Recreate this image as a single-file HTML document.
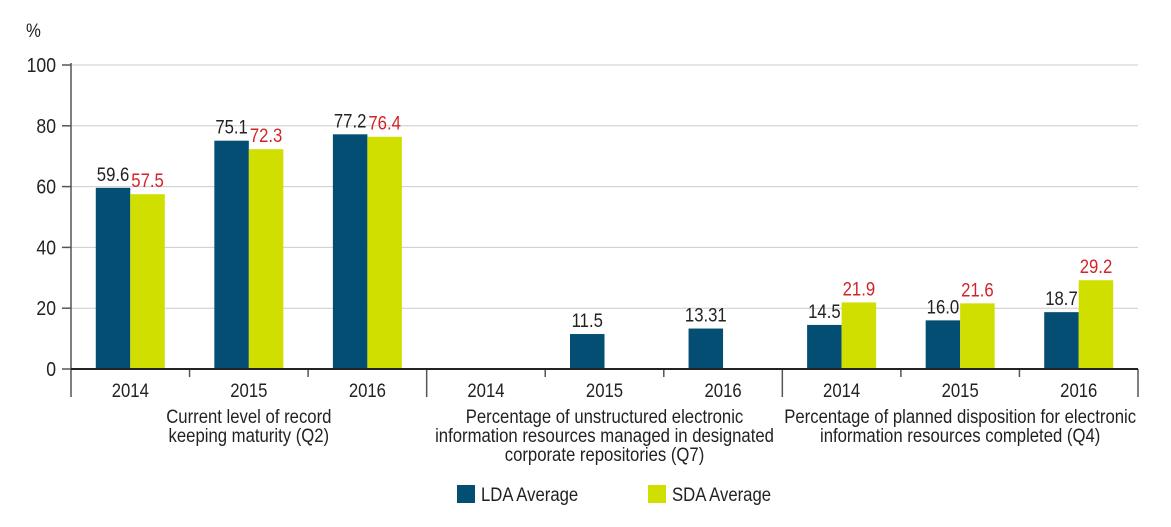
<!DOCTYPE html>
<html><head><meta charset="utf-8"><style>
body{margin:0;background:#fff;}
svg{display:block;font-family:"Liberation Sans Narrow","Liberation Sans",sans-serif;}
</style></head><body>
<svg id="chart" width="1171" height="527" viewBox="0 0 1171 527" xmlns="http://www.w3.org/2000/svg"></svg>
<script>
const categories=["2014","2015","2016","2014","2015","2016","2014","2015","2016"];
const groupLabels=[["Current level of record","keeping maturity (Q2)"],["Percentage of unstructured electronic","information resources managed in designated","corporate repositories (Q7)"],["Percentage of planned disposition for electronic","information resources completed (Q4)"]];
const ldaValues=[59.6,75.1,77.2,null,11.5,13.31,14.5,16.0,18.7];
const ldaLabels=["59.6","75.1","77.2","","11.5","13.31","14.5","16.0","18.7"];
const sdaValues=[57.5,72.3,76.4,null,null,null,21.9,21.6,29.2];
const sdaLabels=["57.5","72.3","76.4","","","","21.9","21.6","29.2"];
const yTicks=[0,20,40,60,80,100];

const svg=document.getElementById('chart');
const NS="http://www.w3.org/2000/svg";
const x0=71,x1=1138,y0=369,yTop=65;
const slot=(x1-x0)/categories.length;
const y=v=>y0-(v/100)*(y0-yTop);
const xc=i=>x0+slot*(i+0.5);
const bw=34.5;
const SX=0.88;
function el(t,a,txt){const e=document.createElementNS(NS,t);for(const k in a)e.setAttribute(k,a[k]);if(txt!=null)e.textContent=txt;svg.appendChild(e);return e;}
function tx(x,yy,size,fill,anchor,txt){
  return el('text',{x:0,y:0,transform:`translate(${x},${yy}) scale(${SX},1)`,'font-size':size,fill:fill,'text-anchor':anchor},txt);
}

const pct=tx(26,37,19,'#222','start','%');


yTicks.forEach(t=>{
  if(t>0){const g=el('line',{x1:x0,x2:x1,y1:y(t),y2:y(t),stroke:'#ccc','stroke-width':1});
  
  }
  const tk=el('line',{x1:x0-9,x2:x0,y1:y(t),y2:y(t),stroke:'#555','stroke-width':1.5});
  
  
  const l=tx(x0-15,y(t)+7,20,'#222','end',String(t));
  
  
});
const ya=el('line',{x1:x0,x2:x0,y1:yTop-2,y2:397,stroke:'#555','stroke-width':1.5});



categories.forEach((c,i)=>{
  const cx=xc(i);
  if(ldaValues[i]!=null){
    const b=el('rect',{x:cx-bw,y:y(ldaValues[i]),width:bw,height:y0-y(ldaValues[i]),fill:'#034e72'});
    
    
    const t=tx(cx-bw/2,y(ldaValues[i])-7,19,'#222','middle',ldaLabels[i]);
    
    
  }
  if(sdaValues[i]!=null){
    const b=el('rect',{x:cx,y:y(sdaValues[i]),width:bw,height:y0-y(sdaValues[i]),fill:'#d0df00'});
    
    
    const t=tx(cx+bw/2,y(sdaValues[i])-7,19,'#d2232a','middle',sdaLabels[i]);
    
    
  }
  const cl=tx(cx,397,19,'#222','middle',c);
  
  
  if(i>0){const major=i%3===0;
    const tk=el('line',{x1:x0+slot*i,x2:x0+slot*i,y1:y0,y2:major?397:377,stroke:'#555','stroke-width':1.5});
    
    }
});
const endTick=el('line',{x1:x1,x2:x1,y1:y0,y2:397,stroke:'#555','stroke-width':1.5});


const xa=el('line',{x1:x0,x2:x1,y1:y0,y2:y0,stroke:'#222','stroke-width':2});



groupLabels.forEach((lines,g)=>{
  const cx=xc(g*3+1);
  lines.forEach((ln,k)=>{
    const t=tx(cx,423+k*19,19,'#222','middle',ln);
    
    
  });
});

const l1=el('rect',{x:457,y:485,width:18,height:18,fill:'#034e72'});


const t1=tx(481,501,19,'#222','start','LDA Average');


const l2=el('rect',{x:648,y:485,width:18,height:18,fill:'#d0df00'});


const t2=tx(672,501,19,'#222','start','SDA Average');


</script>
</body></html>
